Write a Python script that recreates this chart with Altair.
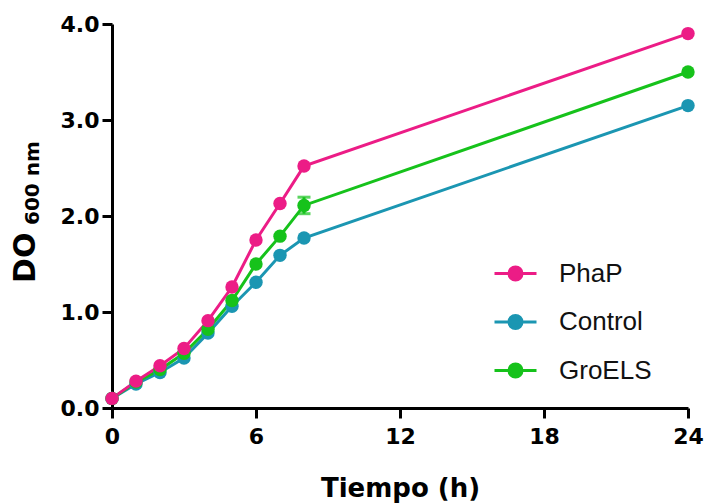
import altair as alt
import pandas as pd

hours = [0, 1, 2, 3, 4, 5, 6, 7, 8, 24]
control = [0.10, 0.25, 0.37, 0.52, 0.78, 1.06, 1.31, 1.59, 1.77, 3.15]
groels = [0.10, 0.27, 0.40, 0.57, 0.82, 1.12, 1.50, 1.79, 2.11, 3.50]
phap = [0.10, 0.28, 0.44, 0.62, 0.91, 1.26, 1.75, 2.13, 2.52, 3.90]
groels_err_hour = [8]
groels_err = [0.086]

series_order = ["PhaP", "Control", "GroELS"]
series_colors = ["#EC1C86", "#1B96B2", "#16C21B"]

rows = []
for name, vals in [("Control", control), ("GroELS", groels), ("PhaP", phap)]:
    for h, v in zip(hours, vals):
        rows.append({"Tiempo": h, "DO": v, "Serie": name})
df = pd.DataFrame(rows)

err_rows = []
for h, e in zip(groels_err_hour, groels_err):
    v = groels[hours.index(h)]
    err_rows.append({"Tiempo": h, "lo": v - e, "hi": v + e, "Serie": "GroELS"})
err_df = pd.DataFrame(err_rows)

color = alt.Color(
    "Serie:N",
    scale=alt.Scale(domain=series_order, range=series_colors),
    legend=alt.Legend(
        title=None,
        orient="none",
        legendX=381,
        legendY=227,
        symbolType="M-1,0H1M0.31,0A0.31,0.31,0,1,1,-0.31,0A0.31,0.31,0,1,1,0.31,0Z",
        symbolSize=1764,
        symbolStrokeWidth=3,
        labelFont="Liberation Sans",
        labelFontSize=26,
        labelColor="#111111",
        labelOffset=21,
        rowPadding=12.5,
    ),
)

x = alt.X(
    "Tiempo:Q",
    scale=alt.Scale(domain=[0, 24], nice=False),
    axis=alt.Axis(
        values=[0, 6, 12, 18, 24],
        title="Tiempo (h)",
        labelFontSize=22,
        labelFlush=False,
        titleFontSize=26,
        labelPadding=8,
        titlePadding=28,
    ),
)
y = alt.Y(
    "DO:Q",
    scale=alt.Scale(domain=[0, 4], nice=False),
    axis=alt.Axis(values=[0, 1, 2, 3, 4], format=".1f", title=None, labelFontSize=22, labelPadding=3),
)

base = alt.Chart(df)
lines = base.mark_line(strokeWidth=3).encode(x=x, y=y, color=color, order=alt.Order("Tiempo:Q"))
points = base.mark_point(filled=True, size=180, opacity=1, shape="circle").encode(x=x, y=y, color=color)

err_base = alt.Chart(err_df)
err_rule = err_base.mark_rule(strokeWidth=3, color="#16C21B").encode(x="Tiempo:Q", y="lo:Q", y2="hi:Q")
cap_lo = err_base.mark_tick(thickness=3, size=13, color="#16C21B", orient="horizontal").encode(x="Tiempo:Q", y="lo:Q")
cap_hi = err_base.mark_tick(thickness=3, size=13, color="#16C21B", orient="horizontal").encode(x="Tiempo:Q", y="hi:Q")

title_df = pd.DataFrame({"t": ["DO"]})
sub_df = pd.DataFrame({"t": ["600 nm"]})
ytitle = alt.Chart(title_df).mark_text(
    angle=270, align="left", baseline="alphabetic", font="DejaVu Sans", fontWeight="bold", fontSize=30, color="black"
).encode(text="t:N", x=alt.value(-77), y=alt.value(259))
ysub = alt.Chart(sub_df).mark_text(
    angle=270, align="left", baseline="alphabetic", font="DejaVu Sans", fontWeight="bold", fontSize=20, color="black"
).encode(text="t:N", x=alt.value(-73), y=alt.value(201))

chart = (
    alt.layer(lines, err_rule, cap_lo, cap_hi, points, ytitle, ysub)
    .properties(
        width=576,
        height=384,
        autosize=alt.AutoSizeParams(type="none"),
        padding={"left": 112, "top": 24, "right": 19, "bottom": 96},
    )
    .configure_view(stroke=None)
    .configure_axis(
        grid=False,
        domainColor="black",
        domainWidth=3,
        tickColor="black",
        tickWidth=3,
        tickSize=10,
        labelFont="DejaVu Sans",
        labelFontWeight="bold",
        labelColor="black",
        titleFont="DejaVu Sans",
        titleFontWeight="bold",
        titleColor="black",
    )
)

chart.save("out.html", embed_options={"renderer": "svg", "actions": False})
